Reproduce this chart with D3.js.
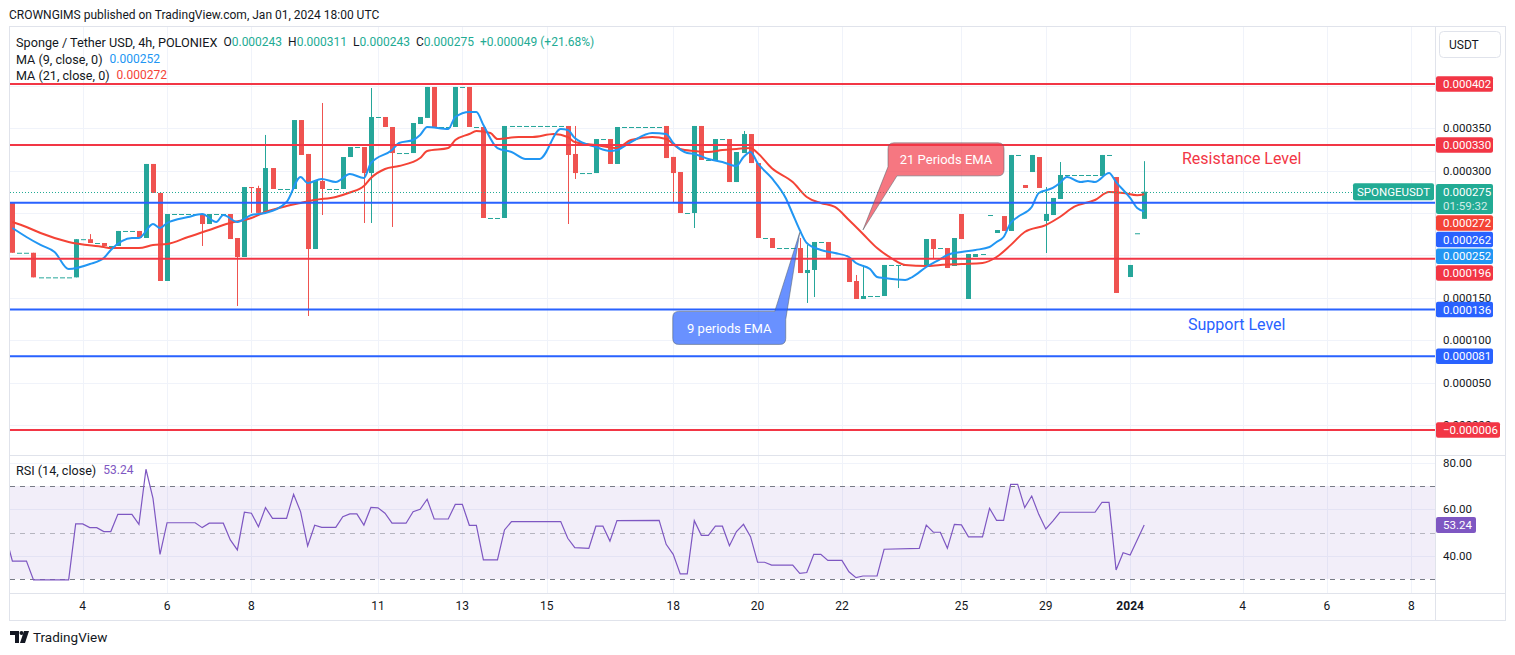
<!DOCTYPE html>
<html>
<head>
<meta charset="utf-8">
<title>SPONGEUSDT 4h</title>
<script src="https://cdnjs.cloudflare.com/ajax/libs/d3/7.8.5/d3.min.js"></script>
<style>
  body { margin: 0; background: #fff; }
  svg text { font-family: Roboto, "Liberation Sans", sans-serif; }
</style>
</head>
<body>
<script>
// prices are in millionths of USDT (0.000275 -> 275)
// one entry per 4h bar: [open, high, low, close]; a single number is a flat bar
var ohlc = [
  [262,262,203,203], 203, 203, [203,203,174,174], 174, 174, 174, 174, 174,
  [174,219,174,219], 219, [219,225,214.5,214.5], 214.5, [214.5,214.5,211,211], 211,
  [211,228.7,211,228.7], 228.7, 228.7, [228.7,228.7,220.4,220.4], [220.4,307.7,220.4,307.7],
  [307.7,307.7,273.5,273.5], [273.5,273.5,169.7,169.7], [169.7,248.7,169.7,248.7],
  248.7, 248.7, 248.7, 248.7, [248.7,248.7,211,236.9], [236.9,248.7,236.9,248.7],
  248.7, 248.7, [248.7,248.7,219.2,219.2], [220.4,220.4,140.2,198], [198,280.5,198,280.5],
  [280.5,280.5,250,279.3], [279.3,282,250,250], [250,341.9,250,302.9], [302.9,302.9,278.2,278.2],
  278.2, 278.2, [278.2,359.5,278.2,359.5], [359.5,359.5,318.3,318.3], [319.5,319.5,128.4,207.4],
  [207.4,287.6,207.4,287.6], [287.6,379.6,247.5,278.2], 278.2, 278.2,
  [278.2,315.9,278.2,315.9], [315.9,327.7,315.9,327.7], 327.7, [327.7,327.7,238.1,297],
  [297,397.3,238.1,363.1], 363.1, [363.1,363.1,351.3,351.3], [351.3,351.3,233.4,320.6],
  320.6, 320.6, [320.6,356,320.6,356], [354.8,363.1,354.8,363.1], [362,398.5,362,398.5],
  [398.5,398.5,351.3,351.3], 351.3, 351.3, [351.3,398.5,351.3,398.5], 398.5,
  [398.5,398.5,351.3,351.3], 351.3, [351.3,351.3,244,244], 244, 244, [244,352.5,244,352.5],
  352.5, 352.5, 352.5, 352.5, 352.5, 352.5, 352.5, 352.5,
  [352.5,352.5,236.9,318.3], [319.5,352.5,290,297], 297, 297, [297,337.1,297,337.1], 337.1,
  [337.1,337.1,307.7,307.7], [307.7,351.3,307.7,351.3], 351.3, 351.3, 351.3, 351.3, 351.3, 351.3,
  [352.5,352.5,314.7,314.7], [316,316,261.7,297], [298.2,298.2,249.9,249.9], 249.9,
  [249.9,352.5,232.2,352.5], [352.5,352.5,312.4,312.4], 312.4, [312.4,337.1,312.4,337.1], 337.1,
  [337.1,337.1,286.4,286.4], [286.4,321.8,286.4,321.8], [320.6,346.6,320.6,343],
  [343,343,308.8,308.8], [308.8,308.8,220.4,220.4], 220.4, [220.4,220.4,208.6,208.6],
  208.6, 208.6, 208.6, [208.6,220.4,179.1,179.1], [179.1,212.1,143.8,182.7],
  [182.7,215.7,150.8,215.7], 215.7, [215.7,215.7,196.8,196.8], 196.8, 196.8,
  [196.8,196.8,168.5,168.5], [169.7,176.8,148.5,148.5], [148.5,188.6,148.5,152], 152, 152,
  [152,188.6,152,188.6], 188.6, [188.6,188.6,161.4,188.6], 188.6, 188.6, 188.6,
  [187.4,219.2,187.4,219.2], [219.2,219.2,195.6,207.4], 208.6, [208.6,208.6,185,185],
  [187.4,220.4,187.4,220.4], [248.7,248.7,219.2,219.2], [148.5,201.5,148.5,201.5],
  [198,201.5,198,201.5], 201.5, 247.5, [226.3,229.8,226.3,229.8], [246.3,246.3,228.7,228.7],
  [228.7,318.3,228.7,318.3], 318.3, [282.9,282.9,279.4,279.4], [298.2,318.3,298.2,318.3],
  [315.9,315.9,279.4,279.4], [240.5,280.5,202.7,248.7], [247.5,267.6,247.5,267.6],
  [266.4,310,266.4,294.7], 294.7, 294.7, 294.7, 294.7, 294.7, [293.5,318.3,293.5,318.3], 318.3,
  [292.3,292.3,155.6,155.6], 196.8, [174.4,188.6,174.4,188.6], 226, [243,311,243,275]
];

// moving averages: [bar index, value]
var ma9 = [
  [0,232.2],[2,221.6],[4,212.2],[6,203.9],[8,183.8],[11,189.7],[13,196.8],[14,206.3],[17,220.4],
  [18,220.4],[20,236.9],[21,232.2],[22,238.1],[25,245.2],[27,248.7],[29,239.3],[30,247.5],
  [32,239.3],[34,247.5],[36,249.9],[39,262.9],[41,292.3],[42,285.3],[44,290],[46,286.4],
  [48,295.9],[50,291.2],[51,308.8],[54,324.2],[55,332.4],[57,336],[58,341.9],[59,351.3],
  [62,348.9],[63,363.1],[65,369],[66,369],[67,353.7],[69,326.5],[71,321.8],[73,313.6],
  [75,313.6],[78,348.9],[79,347.8],[80,338.3],[83,327.7],[85,323],[86,324.2],[88,333.6],
  [91,344.2],[93,343],[94,332.4],[96,320.6],[97,319.5],[99,313.6],[101,310],[103,305.3],
  [104,315.9],[105,321.8],[106,308.8],[108,291.2],[110,267.6],[111,248.7],[112,229.8],
  [113,214.5],[115,206.3],[117,202.7],[119,198],[120,190.9],[122,183.8],[123,174.4],
  [124,173.2],[127,170.9],[128,174.4],[130,186.2],[132,195.6],[133,200.4],[135,203.9],
  [137,206.3],[139,209.8],[140,215.7],[141,221.6],[142,238.1],[143,245.2],[145,257],
  [146,273.5],[148,279.4],[149,285.3],[150,292.3],[152,286.4],[153,287.6],[154,286.4],
  [156,297],[157,286.4],[159,267.6],[160,255.8],[161,252]
];
var ma21 = [
  [0,239.3],[2,233.4],[4,226.3],[8,215.7],[13,209.8],[14,208.6],[18,208.6],[20,212.1],
  [22,213.3],[25,221.6],[28,229.8],[30,235.7],[31,238.1],[34,244],[36,251.1],[39,258.1],
  [41,261.7],[43,265.2],[46,268.8],[48,274],[50,281.7],[51,291.2],[53,301.8],[55,305.3],
  [58,314.7],[59,323],[62,326.5],[63,336],[65,343],[66,346.6],[68,344.2],[69,337.1],
  [72,339.5],[74,339.5],[77,343],[79,339.5],[80,333.6],[83,330.1],[86,326.5],[88,336],
  [91,339.5],[93,337.1],[95,325.4],[97,323],[99,321.8],[101,324.2],[103,325.4],[105,326.5],
  [106,320.6],[108,302.9],[111,286.4],[113,268.8],[115,261.7],[117,257],[119,241.6],
  [121,225.1],[123,208.6],[125,196.8],[127,188.6],[130,187.4],[132,188.6],[135,189.7],
  [138,190.9],[140,198],[142,212],[144,227.5],[147,235.7],[149,245.2],[151,257],[154,265.2],
  [156,274.6],[158,273.5],[160,270.9],[161,272]
];

// RSI(14): [bar index, value]
var rsi = [
  [-1,49],[0,37.7],[2,37.7],[3,29.6],[8,29.6],[9,53.7],[10,53.7],[11,52.1],[12,52.1],[13,50.4],
  [14,50.4],[15,57.8],[17,57.8],[18,53.5],[19,77.2],[20,64.7],[21,40.6],[22,54.2],[26,54.2],
  [27,52.1],[28,54],[30,54],[31,46.8],[32,42.5],[33,58.7],[34,58.3],[35,52.5],[36,60.7],
  [37,56.1],[39,56.1],[40,66.4],[41,58.9],[42,44.2],[43,53.1],[44,52.2],[46,52.2],[47,56.8],
  [48,58],[49,58],[50,53.2],[51,60.8],[52,60.6],[53,58.3],[54,54],[56,54],[57,58.9],[58,60],
  [59,64.3],[60,55.8],[62,55.8],[63,62.1],[64,62.1],[65,53.1],[66,53.1],[67,38.2],[69,38.2],
  [70,51.1],[71,54.7],[78,54.7],[79,47.5],[80,43.5],[82,43.2],[83,52.7],[84,52.7],[85,46.3],
  [86,55.1],[92,55.2],[93,44.9],[94,40.6],[95,32.2],[96,32.2],[97,55.1],[98,48.8],[99,48.8],
  [100,52.7],[101,52.7],[102,44.3],[103,50.4],[104,53.5],[105,48.2],[106,37.2],[107,37.2],
  [108,36],[111,36],[112,32.4],[113,32.8],[114,40.6],[115,40.6],[116,38],[118,38],[119,33.1],
  [120,30.6],[121,31.3],[123,31.3],[124,42.8],[129,43.2],[130,53.2],[131,50.1],[132,50.1],
  [133,43.2],[134,53.5],[135,53.3],[136,48.1],[138,48.1],[139,60.4],[140,55.2],[141,55.2],
  [142,70.7],[143,70.7],[144,60.7],[145,65.7],[146,57.8],[147,51.5],[148,54.9],[149,58.7],
  [154,58.7],[155,63],[156,63],[157,33.9],[158,41.3],[159,40.3],[161,53.24]
];

// drawn horizontal levels
var levels = [
  {p: 402, kind: "red"}, {p: 330, kind: "red"}, {p: 262, kind: "blue"}, {p: 196, kind: "red"},
  {p: 136, kind: "blue"}, {p: 81, kind: "blue"}, {p: -6, kind: "red"}
];

// time axis ticks: [bar index, label]
var dayTicks = [[10,"4"],[22,"6"],[34,"8"],[52,"11"],[64,"13"],[76,"15"],[94,"18"],[106,"20"],
  [118,"22"],[135,"25"],[147,"29"],[159,"2024"],[175,"4"],[187,"6"],[199,"8"]];
var priceGrid = [0, 50, 100, 150, 200, 250, 300, 350, 400];
var priceTickLabels = [0, 50, 100, 150, 300, 350];
var rsiTicks = [40, 60, 80];

var W = 1515, H = 655;
var GREEN = "#26a69a", RED = "#ef5350";
var LRED = "#f23645", LBLUE = "#2962ff";
var MA9C = "#2196f3", MA21C = "#f44336";
var TEXT = "#131722", GRID = "#f0f3fa", BORDER = "#e0e3eb";

var left = 10, right = 1435, mainTop = 27, mainBottom = 455, rsiTop = 456, rsiBottom = 593;

var svg = d3.select("body").append("svg").attr("width", W).attr("height", H);

var bars = ohlc.map(function(d, i) {
  var a = typeof d === "number" ? [d, d, d, d] : d;
  return {i: i, o: a[0], h: a[1], l: a[2], c: a[3]};
});
var last = bars[bars.length - 1], prev = bars[bars.length - 2];

var x = d3.scaleLinear().domain([0, bars.length - 1]).range([12.4, 1144.2]);
var y = d3.scaleLinear().domain([-6, 402]).range([430, 84]);
var yr = d3.scaleLinear().domain([30, 70]).range([579, 486]);

function fmt(v) {
  var s = (Math.abs(v) / 1e6).toFixed(6);
  return (v < 0 ? "\u2212" : "") + s;
}

// header
svg.append("text").attr("x", 9).attr("y", 15).attr("dominant-baseline", "central")
  .attr("font-size", 12).attr("fill", TEXT)
  .text("CROWNGIMS published on TradingView.com, Jan 01, 2024 18:00 UTC");

// frame
svg.append("rect").attr("x", 9.5).attr("y", 26.5).attr("width", 1496).attr("height", 594)
  .attr("fill", "#fff").attr("stroke", BORDER);

var defs = svg.append("defs");
defs.append("clipPath").attr("id", "clipMain").append("rect")
  .attr("x", left).attr("y", mainTop).attr("width", right - left).attr("height", mainBottom - mainTop);
defs.append("clipPath").attr("id", "clipRsi").append("rect")
  .attr("x", left).attr("y", rsiTop).attr("width", right - left).attr("height", rsiBottom - rsiTop);

// grid
var grid = svg.append("g").attr("stroke", GRID).attr("stroke-width", 1);
grid.selectAll(".vg").data(dayTicks).enter().append("line")
  .attr("x1", function(d) { return Math.round(x(d[0])) + 0.5; })
  .attr("x2", function(d) { return Math.round(x(d[0])) + 0.5; })
  .attr("y1", mainTop).attr("y2", rsiBottom);
grid.selectAll(".hg").data(priceGrid).enter().append("line")
  .attr("x1", left).attr("x2", right)
  .attr("y1", function(d) { return Math.round(y(d)) + 0.5; })
  .attr("y2", function(d) { return Math.round(y(d)) + 0.5; });
grid.selectAll(".rg").data(rsiTicks).enter().append("line")
  .attr("x1", left).attr("x2", right)
  .attr("y1", function(d) { return Math.round(yr(d)) + 0.5; })
  .attr("y2", function(d) { return Math.round(yr(d)) + 0.5; });

// pane separators
svg.append("line").attr("x1", 9).attr("x2", 1505).attr("y1", 455.5).attr("y2", 455.5).attr("stroke", BORDER);
svg.append("line").attr("x1", 9).attr("x2", 1505).attr("y1", 593.5).attr("y2", 593.5).attr("stroke", BORDER);
svg.append("line").attr("x1", 1435.5).attr("x2", 1435.5).attr("y1", 27).attr("y2", 620).attr("stroke", BORDER);

// ---- main pane ----
var main = svg.append("g").attr("clip-path", "url(#clipMain)");

// candles
var cg = main.append("g");
cg.selectAll(".wick").data(bars.filter(function(d) { return d.h !== d.l; })).enter().append("line")
  .attr("x1", function(d) { return Math.round(x(d.i)) + 0.5; })
  .attr("x2", function(d) { return Math.round(x(d.i)) + 0.5; })
  .attr("y1", function(d) { return y(d.h); })
  .attr("y2", function(d) { return y(d.l); })
  .attr("stroke", function(d) { return d.c >= d.o ? GREEN : RED; });
cg.selectAll(".body").data(bars).enter().append("rect")
  .attr("x", function(d) { return Math.round(x(d.i)) - 2; })
  .attr("width", 5)
  .attr("y", function(d) { return y(Math.max(d.o, d.c)); })
  .attr("height", function(d) { return Math.max(1, Math.abs(y(d.o) - y(d.c))); })
  .attr("fill", function(d) { return d.c >= d.o ? GREEN : RED; });

// moving averages
var maLine = d3.line().x(function(d) { return x(d[0]); }).y(function(d) { return y(d[1]); })
  .curve(d3.curveMonotoneX);
main.append("path").datum(ma21).attr("d", maLine).attr("fill", "none")
  .attr("stroke", MA21C).attr("stroke-width", 2);
main.append("path").datum(ma9).attr("d", maLine).attr("fill", "none")
  .attr("stroke", MA9C).attr("stroke-width", 2);

// horizontal levels
main.selectAll(".lvl").data(levels).enter().append("line")
  .attr("x1", left).attr("x2", right)
  .attr("y1", function(d) { return y(d.p); }).attr("y2", function(d) { return y(d.p); })
  .attr("stroke", function(d) { return d.kind === "red" ? LRED : LBLUE; })
  .attr("stroke-width", 2);

// last price dotted line
main.append("line").attr("x1", left).attr("x2", 1353)
  .attr("y1", Math.round(y(last.c)) + 0.5).attr("y2", Math.round(y(last.c)) + 0.5)
  .attr("stroke", "#22ab94").attr("stroke-dasharray", "1,2");

// symbol tag
svg.append("rect").attr("x", 1353).attr("y", y(last.c) - 8.5).attr("width", 81).attr("height", 17)
  .attr("rx", 2).attr("fill", "#22ab94");
svg.append("text").attr("x", 1393.5).attr("y", y(last.c)).attr("dominant-baseline", "central")
  .attr("text-anchor", "middle").attr("font-size", 11.5).attr("fill", "#fff").text("SPONGEUSDT");

// callouts anchored to the MA lines
var callouts = [
  {text: "21 Periods EMA", idx: 121, p: 230, fill: "rgba(242,54,69,0.68)",
   box: [25, -87, 141, -54], tailA: [0, -63], tailB: [34, -54], side: "bl"},
  {text: "9 periods EMA", idx: 112, p: 227, fill: "rgba(41,98,255,0.7)",
   box: [-127, 79, -14, 112], tailA: [-25, 79], tailB: [-14, 87], side: "tr"}
];
callouts.forEach(function(c) {
  var tx = x(c.idx), ty = y(c.p);
  var x0 = tx + c.box[0], y0 = ty + c.box[1], x1 = tx + c.box[2], y1 = ty + c.box[3], r = 6;
  var p = d3.path();
  if (c.side === "bl") {
    p.moveTo(x0 + r, y0); p.lineTo(x1 - r, y0); p.quadraticCurveTo(x1, y0, x1, y0 + r);
    p.lineTo(x1, y1 - r); p.quadraticCurveTo(x1, y1, x1 - r, y1);
    p.lineTo(tx + c.tailB[0], y1); p.lineTo(tx, ty); p.lineTo(x0, ty + c.tailA[1]);
    p.lineTo(x0, y0 + r); p.quadraticCurveTo(x0, y0, x0 + r, y0);
  } else {
    p.moveTo(x0 + r, y0); p.lineTo(tx + c.tailA[0], y0); p.lineTo(tx, ty);
    p.lineTo(x1, ty + c.tailB[1]); p.lineTo(x1, y1 - r); p.quadraticCurveTo(x1, y1, x1 - r, y1);
    p.lineTo(x0 + r, y1); p.quadraticCurveTo(x0, y1, x0, y1 - r);
    p.lineTo(x0, y0 + r); p.quadraticCurveTo(x0, y0, x0 + r, y0);
  }
  p.closePath();
  svg.append("path").attr("d", p.toString()).attr("fill", c.fill)
    .attr("stroke", "rgba(90,100,110,0.55)").attr("stroke-width", 1);
  svg.append("text").attr("x", (x0 + x1) / 2).attr("y", (y0 + y1) / 2 + 0.5)
    .attr("text-anchor", "middle").attr("dominant-baseline", "central")
    .attr("font-size", 13).attr("fill", "#fff").text(c.text);
});

svg.append("text").attr("x", 1182).attr("y", 158).attr("dominant-baseline", "central")
  .attr("font-size", 16).attr("fill", LRED).text("Resistance Level");
svg.append("text").attr("x", 1188).attr("y", 324).attr("dominant-baseline", "central")
  .attr("font-size", 16).attr("fill", LBLUE).text("Support Level");

// legends
var lg = svg.append("text").attr("x", 16).attr("y", 42).attr("dominant-baseline", "central")
  .attr("font-size", 12).attr("fill", TEXT);
lg.append("tspan").attr("font-size", 12.7).text("Sponge / Tether USD, 4h, POLONIEX");
[["O", last.o], ["H", last.h], ["L", last.l], ["C", last.c]].forEach(function(k, j) {
  lg.append("tspan").attr("dx", j === 0 ? 6 : 6).text(k[0]);
  lg.append("tspan").attr("fill", "#22ab94").text(fmt(k[1]));
});
var chg = last.c - prev.c;
lg.append("tspan").attr("dx", 6).attr("fill", "#22ab94")
  .text("+" + fmt(chg) + " (+" + (chg / prev.c * 100).toFixed(2) + "%)");

var l2 = svg.append("text").attr("x", 16).attr("y", 59).attr("dominant-baseline", "central")
  .attr("font-size", 12.6).attr("fill", TEXT);
l2.append("tspan").text("MA (9, close, 0)");
l2.append("tspan").attr("dx", 7).attr("font-size", 12).attr("fill", MA9C).text(fmt(ma9[ma9.length - 1][1]));
var l3 = svg.append("text").attr("x", 16).attr("y", 75).attr("dominant-baseline", "central")
  .attr("font-size", 12.6).attr("fill", TEXT);
l3.append("tspan").text("MA (21, close, 0)");
l3.append("tspan").attr("dx", 7).attr("font-size", 12).attr("fill", MA21C).text(fmt(ma21[ma21.length - 1][1]));

// ---- price axis ----
svg.append("rect").attr("x", 1439.5).attr("y", 31.5).attr("width", 61).attr("height", 26)
  .attr("rx", 4).attr("fill", "#fff").attr("stroke", BORDER);
svg.append("text").attr("x", 1449).attr("y", 44.5).attr("dominant-baseline", "central")
  .attr("font-size", 12).attr("fill", TEXT).text("USDT");

svg.selectAll(".ptick").data(priceTickLabels).enter().append("text")
  .attr("x", 1443).attr("y", function(d) { return y(d); }).attr("dominant-baseline", "central")
  .attr("font-size", 11.5).attr("fill", TEXT).text(function(d) { return fmt(d); });

var plabels = levels.map(function(d) { return {v: d.p, col: d.kind === "red" ? LRED : LBLUE}; });
plabels.push({v: last.c, col: "#22ab94", extra: "01:59:32"});
plabels.push({v: ma21[ma21.length - 1][1], col: MA21C});
plabels.push({v: ma9[ma9.length - 1][1], col: MA9C});
plabels.sort(function(a, b) { return b.v - a.v; });
var prevBottom = -1e9;
plabels.forEach(function(d) {
  d.h = d.extra ? 30 : 15.5;
  d.top = Math.max(y(d.v) - 7.75, prevBottom + 1.2);
  prevBottom = d.top + d.h;
});
plabels.forEach(function(d) {
  var w = d.v < 0 ? 64 : 57;
  svg.append("rect").attr("x", 1436).attr("y", d.top).attr("width", w).attr("height", d.h)
    .attr("rx", 2).attr("fill", d.col);
  svg.append("text").attr("x", 1443).attr("y", d.top + 7.9).attr("dominant-baseline", "central")
    .attr("font-size", 11.5).attr("fill", "#fff").text(fmt(d.v));
  if (d.extra) {
    svg.append("text").attr("x", 1443).attr("y", d.top + 22.5).attr("dominant-baseline", "central")
      .attr("font-size", 11.5).attr("fill", "rgba(255,255,255,0.8)").text(d.extra);
  }
});

// ---- RSI pane ----
var rp = svg.append("g").attr("clip-path", "url(#clipRsi)");
rp.append("rect").attr("x", left).attr("width", right - left)
  .attr("y", yr(70)).attr("height", yr(30) - yr(70)).attr("fill", "rgba(126,87,194,0.1)");
[[70, "#787b86"], [50, "rgba(120,123,134,0.5)"], [30, "#787b86"]].forEach(function(b) {
  rp.append("line").attr("x1", left).attr("x2", right)
    .attr("y1", Math.round(yr(b[0])) + 0.5).attr("y2", Math.round(yr(b[0])) + 0.5)
    .attr("stroke", b[1]).attr("stroke-dasharray", "5,5");
});
rp.append("path").datum(rsi)
  .attr("d", d3.line().x(function(d) { return x(d[0]); }).y(function(d) { return yr(d[1]); }))
  .attr("fill", "none").attr("stroke", "#7e57c2").attr("stroke-width", 1.2);

var rl = svg.append("text").attr("x", 16).attr("y", 470).attr("dominant-baseline", "central")
  .attr("font-size", 12.6).attr("fill", TEXT);
rl.append("tspan").text("RSI (14, close)");
rl.append("tspan").attr("dx", 7).attr("font-size", 12).attr("fill", "#7e57c2").text(rsi[rsi.length - 1][1].toFixed(2));

svg.selectAll(".rtick").data(rsiTicks).enter().append("text")
  .attr("x", 1443).attr("y", function(d) { return yr(d); }).attr("dominant-baseline", "central")
  .attr("font-size", 11.5).attr("fill", TEXT).text(function(d) { return d.toFixed(2); });
var rlast = rsi[rsi.length - 1][1];
svg.append("rect").attr("x", 1436).attr("y", yr(rlast) - 8).attr("width", 40).attr("height", 16)
  .attr("rx", 2).attr("fill", "#7e57c2");
svg.append("text").attr("x", 1443).attr("y", yr(rlast)).attr("dominant-baseline", "central")
  .attr("font-size", 11.5).attr("fill", "#fff").text(rlast.toFixed(2));

// ---- time axis ----
svg.selectAll(".ttick").data(dayTicks).enter().append("text")
  .attr("x", function(d) { return x(d[0]); }).attr("y", 606).attr("dominant-baseline", "central")
  .attr("text-anchor", "middle").attr("font-size", 12).attr("fill", TEXT)
  .attr("font-weight", function(d) { return d[1] === "2024" ? "bold" : null; })
  .text(function(d) { return d[1]; });

// footer logo
var logo = svg.append("g").attr("fill", TEXT);
logo.append("path").attr("d", "M10,631 H19 V643 H15 V635 H10 Z");
logo.append("circle").attr("cx", 21.5).attr("cy", 633).attr("r", 2);
logo.append("path").attr("d", "M24,631 H29 L25,643 H20 Z");
svg.append("text").attr("x", 33).attr("y", 637).attr("dominant-baseline", "central")
  .attr("font-size", 13.5).attr("fill", TEXT).text("TradingView");
</script>
</body>
</html>
